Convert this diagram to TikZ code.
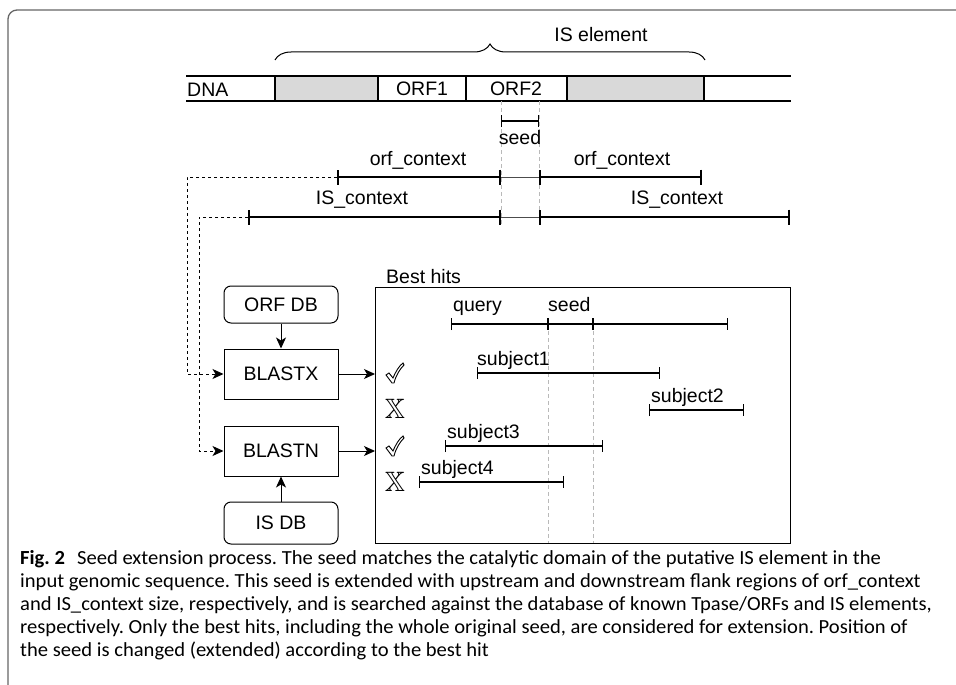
\documentclass[tikz,border=0pt]{standalone}
\usepackage{fontspec}
\usepackage{amssymb}
\setmainfont{Liberation Sans}
\newfontfamily\capfont[FakeStretch=1.03]{Carlito}
\usetikzlibrary{arrows.meta,decorations.pathreplacing}

\begin{document}
\begin{tikzpicture}[x=1pt,y=-1pt,
  font=\fontsize{19.5}{22}\selectfont,
  dbbox/.style={draw, line width=1pt, rounded corners=7pt, minimum width=114pt, inner sep=0pt},
  toolbox/.style={draw, line width=1pt, minimum width=114pt, minimum height=50pt, inner sep=0pt},
  ctxline/.style={line width=2.4pt, {Bar[width=15pt]}-{Bar[width=15pt]}},
  gapline/.style={line width=1pt, black!70},
  hitline/.style={line width=1.1pt, {Bar[width=12pt]}-{Bar[width=12pt]}},
  guide/.style={gray!55, line width=0.8pt, dash pattern=on 4pt off 3pt},
  link/.style={line width=1pt, dash pattern=on 3pt off 3pt, -{Stealth[length=11pt,width=10pt,inset=3pt]}},
  arr/.style={line width=1pt, -{Stealth[length=11pt,width=10pt,inset=3pt]}},
  lbl/.style={inner sep=0pt, anchor=base west},
  okmark/.pic={\draw[line width=0.9pt, fill=white] (-9,1) -- (-6,-1) -- (-2,4)
      .. controls (1,-3) and (4,-8) .. (8,-11) -- (9,-9)
      .. controls (5,-5) and (1,1) .. (-1,9) -- (-3,9) -- cycle;},
]

\useasboundingbox (0,0) rectangle (956,685);

% Define colors
\definecolor{flank}{rgb}{0.85, 0.85, 0.85}
\definecolor{frame}{rgb}{0.4, 0.4, 0.4}

% Outer frame
\draw[frame, line width=1.3pt, rounded corners=9pt] (8,686) -- (8,10) -- (957,10);

% IS element brace
\draw[line width=1pt, decorate, decoration={brace, amplitude=16pt}] (275,60) -- (705,60);
\node (iselem) at (601,35) {IS element};

% DNA sequence
\fill[flank] (275,76) rectangle (378,101);
\fill[flank] (567,76) rectangle (704,101);
\draw[line width=1.1pt] (186,76) -- (791,76);
\draw[line width=1.1pt] (186,101) -- (791,101);
\foreach \x in {275,378,466,567,704}
  \draw[line width=1.1pt] (\x,76) -- (\x,101);
\node[lbl] (dna) at (187,96) {DNA};
\node (orf1) at (422,88.5) {ORF1};
\node (orf2) at (516,88.5) {ORF2};

% Seed
\draw[guide] (501,101) -- (501,225);
\draw[guide] (539,101) -- (539,225);
\draw[hitline] (501,121) -- (539,121);
\node (seed) at (520,138) {seed};

% Context regions
\coordinate (orfL) at (337,177);
\coordinate (isL) at (248,217);
\draw[ctxline] (orfL) -- (501,177);
\draw[gapline] (501,177) -- (539,177);
\draw[ctxline] (539,177) -- (702,177);
\draw[ctxline] (isL) -- (501,217);
\draw[gapline] (501,217) -- (539,217);
\draw[ctxline] (539,217) -- (790,217);
\node (orfctx1) at (418,160) {orf\_context};
\node (orfctx2) at (622,160) {orf\_context};
\node (isctx1) at (362,200) {IS\_context};
\node (isctx2) at (677,200) {IS\_context};

% Databases and searches
\node[dbbox, minimum height=37pt] (orfdb) at (281,304.5) {ORF DB};
\node[toolbox] (blastx) at (281,374) {BLASTX};
\node[toolbox] (blastn) at (281,451) {BLASTN};
\node[dbbox, minimum height=42pt] (isdb) at (281,523) {IS DB};

% Best hits box
\draw[line width=1pt] (375,287) rectangle (790,543);
\coordinate (hits) at (375,287);
\node[lbl] (besthits) at (386,283) {Best hits};

% Connectors
\draw[arr] (orfdb) -- (blastx);
\draw[arr] (isdb) -- (blastn);
\draw[link] (orfL) -- ++(-150,0) |- (blastx.west);
\draw[link] (isL) -- ++(-49,0) |- (blastn.west);
\draw[arr] (blastx.east) -- (blastx.east -| hits);
\draw[arr] (blastn.east) -- (blastn.east -| hits);

% Hits
\draw[guide] (548,324) -- (548,543);
\draw[guide] (593,324) -- (593,543);
\draw[hitline] (451,324) -- (548,324);
\draw[hitline] (548,324) -- (593,324);
\draw[hitline] (593,324) -- (728,324);
\node[lbl] (query) at (453,311) {query};
\node[lbl] (qseed) at (548,311) {seed};

\draw[hitline] (477,373) -- (660,373);
\node[lbl] (subj1) at (477,365) {subject1};
\draw[hitline] (649,410) -- (744,410);
\node[lbl] (subj2) at (651,402) {subject2};
\draw[hitline] (445,446) -- (603,446);
\node[lbl] (subj3) at (447,438) {subject3};
\draw[hitline] (419,482) -- (564,482);
\node[lbl] (subj4) at (421,474) {subject4};

\pic at (395,374) {okmark};
\node (no1) at (395,409) {\fontsize{28}{28}\selectfont$\mathbb{X}$};
\pic at (395,447) {okmark};
\node (no2) at (395,482) {\fontsize{28}{28}\selectfont$\mathbb{X}$};

% Caption
\begin{scope}[every node/.style={inner sep=0pt, anchor=base west, font=\capfont\fontsize{20}{23}\selectfont\frenchspacing}]
\node (cap1) at (20,564) {\textbf{Fig.~2}\hspace{0.6em}Seed extension process. The seed matches the catalytic domain of the putative IS element in the};
\node (cap2) at (20,587) {input genomic sequence. This seed is extended with upstream and downstream flank regions of orf\_context};
\node (cap3) at (20,610) {and IS\_context size, respectively, and is searched against the database of known Tpase/ORFs and IS elements,};
\node (cap4) at (20,633) {respectively. Only the best hits, including the whole original seed, are considered for extension. Position of};
\node (cap5) at (20,656) {the seed is changed (extended) according to the best hit};
\end{scope}

\end{tikzpicture}
\end{document}
